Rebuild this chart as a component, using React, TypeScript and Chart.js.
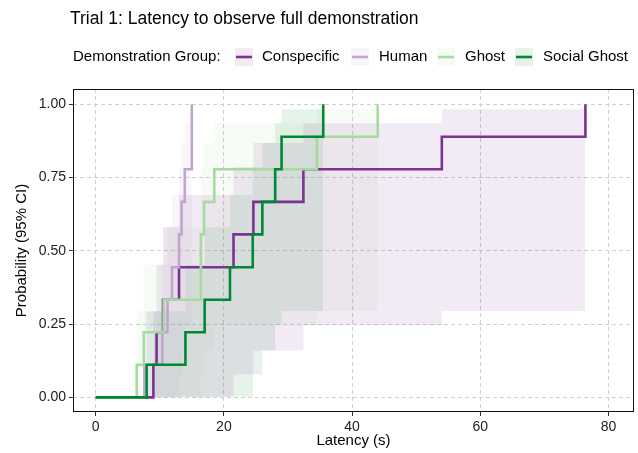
import React, { useEffect, useRef } from "react";
import { Chart, registerables } from "chart.js";

Chart.register(...registerables);

const titleText = "Trial 1: Latency to observe full demonstration";
const legendTitle = "Demonstration Group:";
const xAxisTitle = "Latency (s)";
const yAxisTitle = "Probability (95% CI)";

const groups = ["Conspecific", "Human", "Ghost", "Social Ghost"];
const groupColors = ["#7b3294", "#c2a5cf", "#a6dba0", "#008837"];

const xTicks = [0, 20, 40, 60, 80];
const yTicks = [0, 0.25, 0.5, 0.75, 1];

// step times (s) and cumulative probability after each step
const conspecificTimes = [0, 9.0, 9.5, 10.5, 13.0, 21.5, 24.6, 32.4, 54.0, 76.4];
const conspecificProb = [0, 0.111, 0.222, 0.333, 0.444, 0.556, 0.667, 0.778, 0.889, 1.0];
const conspecificLower = [0, 0, 0, 0, 0.003, 0.078, 0.16, 0.246, 0.295];
const conspecificUpper = [0, 0.294, 0.452, 0.58, 0.69, 0.786, 0.868, 0.935, 0.983];

const humanTimes = [0, 7.6, 10.4, 11.2, 11.9, 13.0, 13.4, 13.9, 15.0];
const humanProb = [0, 0.111, 0.222, 0.333, 0.444, 0.556, 0.667, 0.778, 1.0];
const humanLower = [0, 0, 0, 0, 0.003, 0.078, 0.16, 0.246];
const humanUpper = [0, 0.294, 0.452, 0.58, 0.69, 0.786, 0.868, 0.935];

const ghostTimes = [0, 6.4, 7.5, 10.6, 16.4, 16.9, 18.5, 34.5, 44.0];
const ghostProb = [0, 0.111, 0.222, 0.333, 0.556, 0.667, 0.778, 0.889, 1.0];
const ghostLower = [0, 0, 0, 0, 0.078, 0.16, 0.246, 0.295];
const ghostUpper = [0, 0.294, 0.452, 0.58, 0.786, 0.868, 0.935, 0.983];

const socialTimes = [0, 7.95, 14.0, 17.0, 20.95, 24.5, 26.0, 28.0, 29.0, 35.5];
const socialProb = [0, 0.111, 0.222, 0.333, 0.444, 0.556, 0.667, 0.778, 0.889, 1.0];
const socialLower = [0, 0, 0, 0, 0.003, 0.078, 0.16, 0.246, 0.295];
const socialUpper = [0, 0.294, 0.452, 0.58, 0.69, 0.786, 0.868, 0.935, 0.983];

const groupTimes = [conspecificTimes, humanTimes, ghostTimes, socialTimes];
const groupProb = [conspecificProb, humanProb, ghostProb, socialProb];
const groupLower = [conspecificLower, humanLower, ghostLower, socialLower];
const groupUpper = [conspecificUpper, humanUpper, ghostUpper, socialUpper];

const BAND_ALPHA = 0.1;
const FONT = '"Liberation Sans", Arial, sans-serif';

function hexToRgba(hex: string, a: number) {
  const r = parseInt(hex.slice(1, 3), 16);
  const g = parseInt(hex.slice(3, 5), 16);
  const b = parseInt(hex.slice(5, 7), 16);
  return `rgba(${r},${g},${b},${a})`;
}

function bandPoints(times: number[], vals: number[]) {
  const pts = vals.map((v, i) => ({ x: times[i], y: v }));
  pts.push({ x: times[vals.length], y: vals[vals.length - 1] });
  return pts;
}

const decorPlugin = {
  id: "decor",
  afterDraw(chart: any) {
    const ctx = chart.ctx;
    const a = chart.chartArea;
    ctx.save();
    ctx.strokeStyle = "#111";
    ctx.lineWidth = 1;
    ctx.strokeRect(a.left + 0.5, a.top + 0.5, a.right - a.left - 1, a.bottom - a.top - 1);

    ctx.fillStyle = "#000";
    ctx.textBaseline = "middle";
    ctx.textAlign = "left";
    ctx.font = `17.5px ${FONT}`;
    ctx.fillText(titleText, 70, 19);

    ctx.font = `15px ${FONT}`;
    ctx.fillText(legendTitle, 73, 57);
    const keyX = [235, 351, 437, 515];
    const textX = [262, 379, 465, 543];
    groups.forEach((g, i) => {
      ctx.fillStyle = hexToRgba(groupColors[i], BAND_ALPHA);
      ctx.fillRect(keyX[i], 48, 18, 18);
      ctx.strokeStyle = groupColors[i];
      ctx.lineWidth = 2.6;
      ctx.beginPath();
      ctx.moveTo(keyX[i] + 1, 57);
      ctx.lineTo(keyX[i] + 17, 57);
      ctx.stroke();
      ctx.fillStyle = "#000";
      ctx.fillText(g, textX[i], 57);
    });

    ctx.font = `15px ${FONT}`;
    ctx.textAlign = "center";
    ctx.fillText(xAxisTitle, (a.left + a.right) / 2, 441);
    ctx.save();
    ctx.translate(22, (a.top + a.bottom) / 2);
    ctx.rotate(-Math.PI / 2);
    ctx.fillText(yAxisTitle, 0, 0);
    ctx.restore();
    ctx.restore();
  },
};

export default function App() {
  const canvasRef = useRef<HTMLCanvasElement | null>(null);

  useEffect(() => {
    const canvas = canvasRef.current;
    if (!canvas) return;
    const datasets: any[] = [];
    groups.forEach((g, i) => {
      const lowerIndex = datasets.length;
      datasets.push({
        label: g + " lower",
        data: bandPoints(groupTimes[i], groupLower[i]),
        stepped: "before",
        borderWidth: 0,
        borderColor: "rgba(0,0,0,0)",
        pointRadius: 0,
        fill: false,
        order: 20 + i,
      });
      datasets.push({
        label: g + " upper",
        data: bandPoints(groupTimes[i], groupUpper[i]),
        stepped: "before",
        borderWidth: 0,
        borderColor: "rgba(0,0,0,0)",
        backgroundColor: hexToRgba(groupColors[i], BAND_ALPHA),
        pointRadius: 0,
        fill: { target: lowerIndex },
        order: 20 + i,
      });
    });
    groups.forEach((g, i) => {
      datasets.push({
        label: g,
        data: groupTimes[i].map((t, k) => ({ x: t, y: groupProb[i][k] })),
        stepped: "before",
        borderColor: groupColors[i],
        borderWidth: 2.6,
        pointRadius: 0,
        fill: false,
        order: 10 - i,
        borderCapStyle: "butt",
        borderJoinStyle: "miter",
      });
    });

    const chart = new Chart(canvas, {
      type: "line",
      data: { datasets },
      options: {
        animation: false,
        responsive: false,
        devicePixelRatio: 1,
        parsing: false as any,
        normalized: true,
        layout: { padding: { top: 89, right: 4, left: 0, bottom: 0 }, autoPadding: false },
        plugins: { legend: { display: false }, tooltip: { enabled: false }, title: { display: false } },
        scales: {
          x: {
            type: "linear",
            min: -3.54,
            max: 83.98,
            afterBuildTicks: (s: any) => {
              s.ticks = xTicks.map((v) => ({ value: v }));
            },
            afterFit: (s: any) => {
              s.height = 41;
            },
            grid: {
              color: "#cfcfcf",
              lineWidth: 1,
              tickColor: "#333",
              tickLength: 4,
              tickWidth: 1,
              tickBorderDash: [],
            },
            border: { display: false, dash: [4, 3] },
            ticks: {
              color: "#222",
              font: { family: FONT, size: 14 },
              padding: 3,
              maxRotation: 0,
              callback: (v: any) => String(v),
            },
          },
          y: {
            type: "linear",
            min: -0.05,
            max: 1.052,
            afterBuildTicks: (s: any) => {
              s.ticks = yTicks.map((v) => ({ value: v }));
            },
            afterFit: (s: any) => {
              s.width = 73;
            },
            grid: {
              color: "#cfcfcf",
              lineWidth: 1,
              tickColor: "#333",
              tickLength: 4,
              tickWidth: 1,
              tickBorderDash: [],
            },
            border: { display: false, dash: [4, 3] },
            ticks: {
              color: "#222",
              font: { family: FONT, size: 14 },
              padding: 3,
              callback: (v: any) => Number(v).toFixed(2),
            },
          },
        },
      },
      plugins: [decorPlugin],
    });
    return () => chart.destroy();
  }, []);

  return (
    <div style={{ position: "fixed", left: 0, top: 0, width: 638, height: 453, background: "#fff" }}>
      <canvas ref={canvasRef} width={638} height={453} style={{ display: "block", width: 638, height: 453 }} />
    </div>
  );
}
